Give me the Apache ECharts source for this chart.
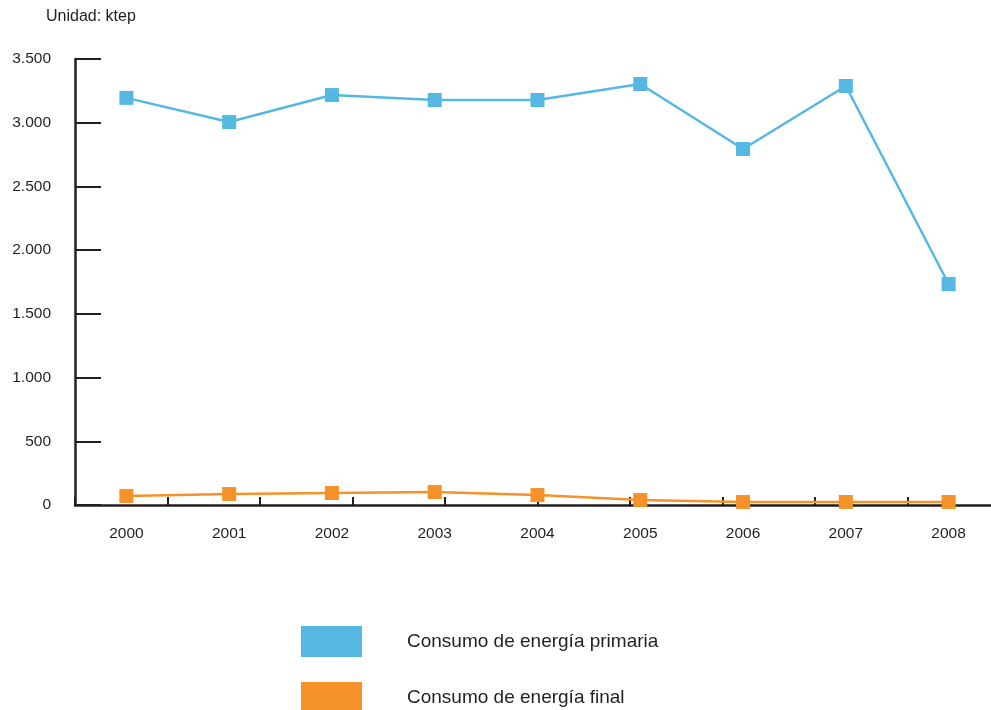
<!DOCTYPE html>
<html><head><meta charset="utf-8">
<script src="https://cdn.jsdelivr.net/npm/echarts@6/dist/echarts.min.js"></script>
<style>html,body{margin:0;padding:0;background:#fff}#c{width:991px;height:710px}</style>
</head><body><div id="c"></div>
<script>
const years = ['2000','2001','2002','2003','2004','2005','2006','2007','2008'];
const primaria = [3195, 3005, 3217, 3178, 3178, 3304, 2794, 3288, 1734];
const final = [71, 86, 94, 102, 78, 39, 24, 24, 24];
const unitLabel = 'Unidad: ktep';
const names = ['Consumo de energía primaria', 'Consumo de energía final'];

const FONT = '"Liberation Sans", Arial, Helvetica, sans-serif';
const TXT = '#231f20';
const fmt = v => String(v).replace(/\B(?=(\d{3})+(?!\d))/g, '.');

const legendCommon = {
  orient: 'vertical', left: 301, itemWidth: 61, itemHeight: 31, padding: 0,
  icon: 'rect',
  textStyle: { fontFamily: FONT, fontSize: 19, color: TXT, padding: [0, 0, 0, 40] }
};

const chart = echarts.init(document.getElementById('c'));
chart.setOption({
  animation: false,
  textStyle: { fontFamily: FONT },
  title: { text: unitLabel, left: 46, top: 9, padding: 0, textStyle: { fontFamily: FONT, fontSize: 16, fontWeight: 'normal', color: TXT } },
  grid: { left: 75, top: 59, width: 925, height: 446, outerBoundsMode: 'none', containLabel: false },
  legend: [
    Object.assign({}, legendCommon, { top: 626, data: [names[0]] }),
    Object.assign({}, legendCommon, { top: 682, data: [names[1]] })
  ],
  xAxis: [{
    type: 'category', data: years, boundaryGap: true,
    axisLine: { lineStyle: { color: TXT, width: 2.5 } },
    axisTick: { show: false },
    axisLabel: { color: TXT, fontSize: 15.5, margin: 21, fontFamily: FONT }
  }, {
    type: 'value', min: 0, max: 10, interval: 1, position: 'bottom',
    axisLine: { show: false },
    axisTick: { show: true, inside: true, length: 8, lineStyle: { color: TXT, width: 2 } },
    axisLabel: { show: false }, splitLine: { show: false }
  }],
  yAxis: {
    type: 'value', min: 0, max: 3500, interval: 500,
    axisLine: { show: true, lineStyle: { color: TXT, width: 2.5 } },
    axisTick: { show: true, inside: true, length: 26, lineStyle: { color: TXT, width: 2 } },
    axisLabel: { color: TXT, fontSize: 15.5, margin: 24, fontFamily: FONT, formatter: v => fmt(v) },
    splitLine: { show: false }
  },
  series: [{
    name: names[0], type: 'line', data: primaria, xAxisIndex: 0,
    symbol: 'rect', symbolSize: 14,
    lineStyle: { color: '#55b8e2', width: 2.5 }, itemStyle: { color: '#55b8e2' }
  }, {
    name: names[1], type: 'line', data: final, xAxisIndex: 0,
    symbol: 'rect', symbolSize: 14,
    lineStyle: { color: '#f5922a', width: 2.5 }, itemStyle: { color: '#f5922a' }
  }]
});
</script></body></html>
